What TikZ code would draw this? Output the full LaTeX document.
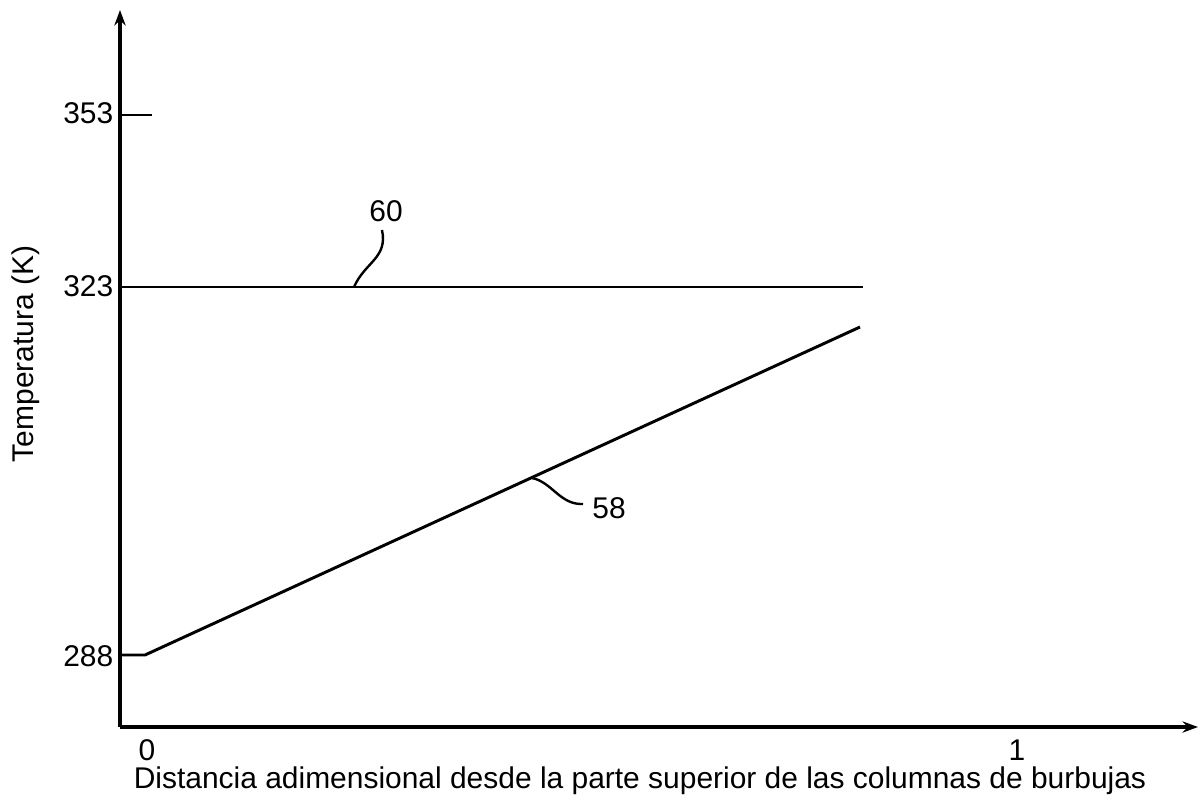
\documentclass[tikz,border=0pt]{standalone}
\usepackage{fontspec}
\setmainfont{Liberation Sans}
\usetikzlibrary{arrows.meta,positioning,calc}

\begin{document}
\begin{tikzpicture}[
    x=0.025cm, y=-0.025cm,
    axis/.style={line width=2.2pt, -{Stealth[length=11pt,width=8pt]}},
    curve/.style={line width=2.1pt},
    leader/.style={line width=1.7pt},
    lbl/.style={font=\fontsize{21.3}{25}\selectfont, inner sep=1pt},
    tick/.style={lbl, inner sep=0pt, text depth=0pt, anchor=base}
]
    \useasboundingbox (0,0) rectangle (1201,803);

    % Axes
    \coordinate (origin) at (120,727);
    \coordinate (ytop) at (120,10);
    \coordinate (xend) at (1198,727);
    \draw[axis] (origin) -- (ytop);
    \draw[axis] (origin) -- (xend);

    % Ticks and values
    \coordinate (t353) at (120,115);
    \coordinate (t353e) at (152,115);
    \draw[curve] (t353) -- (t353e);
    \node[lbl, anchor=east] (v353) at (115,113) {353};
    \node[lbl, anchor=east] (v323) at (115,286) {323};
    \node[lbl, anchor=east] (v288) at (115,656) {288};
    \node[tick] (x0) at (147,760) {0};
    \node[tick] (x1) at (1017,760) {1};

    % Curves
    \coordinate (a60) at (120,287);
    \coordinate (b60) at (863,287);
    \draw[curve] (a60) -- (b60);
    \coordinate (a58) at (120,655);
    \coordinate (k58) at (145,655);
    \coordinate (b58) at (860,327);
    \draw[curve] (a58) -- (k58) -- (b58);

    % Reference numerals
    \node[lbl] (n60) at (386,211) {60};
    \node[lbl] (n58) at (609,508) {58};
    \coordinate (p60) at (354,287);
    \coordinate (p58) at (532,478);
    \draw[leader] (p60) .. controls (365,262) and (388,258) .. (382,230);
    \draw[leader] (p58) .. controls (552,482) and (560,505) .. (583,504);

    % Axis titles
    \node[lbl, inner sep=0pt, text height=1.55ex, anchor=base] (xlabel) at (640,788) {Distancia adimensional desde la parte superior de las columnas de burbujas};
    \node[lbl, rotate=90] (ylabel) at (26,354) {Temperatura (K)};
\end{tikzpicture}
\end{document}
